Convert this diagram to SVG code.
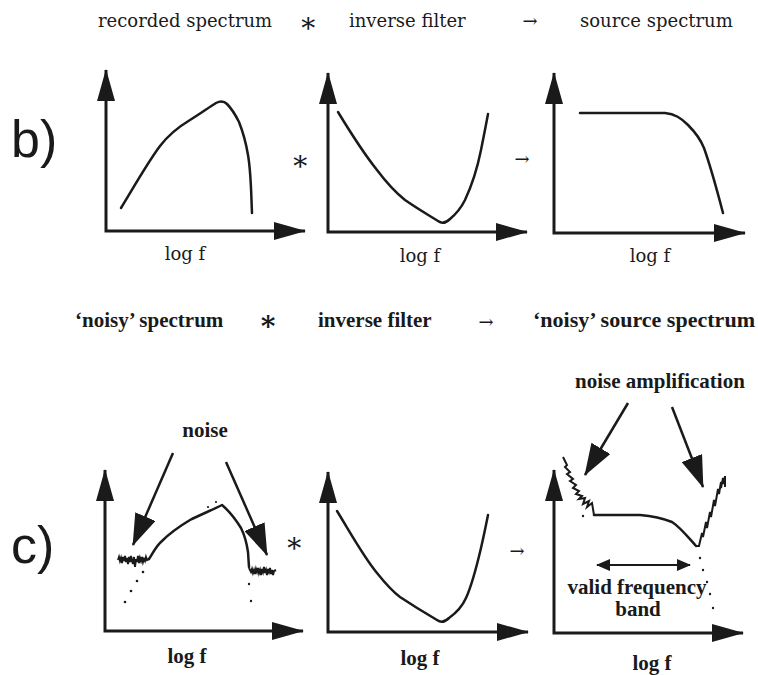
<svg xmlns="http://www.w3.org/2000/svg" width="758" height="675" viewBox="0 0 758 675">
<style>
.t{font-family:"DejaVu Serif","Liberation Serif",serif;font-size:18px;fill:#1a1a1a}
.tb{font-family:"Liberation Serif",serif;font-size:21px;font-weight:bold;fill:#1a1a1a}
.big{font-family:"Liberation Sans",Arial,sans-serif;font-size:52px;fill:#1a1a1a}
.ast{font-family:"DejaVu Serif",serif;font-size:28px;fill:#1a1a1a}
.ax{fill:none;stroke:#1a1a1a;stroke-width:3;marker-start:url(#ah);marker-end:url(#ah)}
.cv{fill:none;stroke:#1a1a1a;stroke-width:2.5;stroke-linejoin:round;stroke-linecap:round}
.nz{fill:none;stroke:#1a1a1a;stroke-width:2;stroke-linejoin:miter}
.dot{fill:#1a1a1a}
.pt{fill:none;stroke:#1a1a1a;stroke-width:2.5;marker-end:url(#bh)}
</style>
<defs>
<marker id="ah" markerUnits="userSpaceOnUse" markerWidth="32" markerHeight="18" refX="31" refY="9" orient="auto-start-reverse">
<path d="M0,0 L32,9 L0,18 z" fill="#1a1a1a"/>
</marker>
<marker id="bh" markerUnits="userSpaceOnUse" markerWidth="32" markerHeight="22" refX="31" refY="11" orient="auto">
<path d="M0,0 L32,11 L0,22 z" fill="#1a1a1a"/>
</marker>
<marker id="sh" markerUnits="userSpaceOnUse" markerWidth="14" markerHeight="12" refX="13" refY="6" orient="auto-start-reverse">
<path d="M0,0 L14,6 L0,12 z" fill="#1a1a1a"/>
</marker>
</defs>
<rect width="758" height="675" fill="#ffffff"/>

<g id="row-b-header">
<text class="t" x="98" y="27">recorded spectrum</text>
<text class="ast" x="308" y="32" text-anchor="middle">∗</text>
<text class="t" x="349" y="27">inverse filter</text>
<text class="t" x="530" y="27" text-anchor="middle">→</text>
<text class="t" x="580" y="27">source spectrum</text>
</g>

<g id="label-b"><text class="big" x="11" y="157">b)</text></g>
<g id="label-c"><text class="big" x="11" y="563">c)</text></g>

<g id="graph-b1">
<path class="ax" d="M106,70 L106,231 L305,231"/>
<path class="cv" d="M121,208 C135,185 148,162 160,146 C170,133 180,126 190,120 C200,114 208,108 216,103 C220,101 224,101 227,104 C232,109 236,116 239,122 C243,132 246,143 248,155 C251,172 251,190 252,213"/>
<text class="t" x="185" y="260" text-anchor="middle">log f</text>
</g>

<g id="graph-b2">
<path class="ax" d="M328,73 L328,232 L527,232"/>
<path class="cv" d="M338,112 C352,135 365,155 377,170 C386,182 395,192 405,200 C418,209 430,216 438,221 C442,224 446,223 450,219 C456,214 461,208 465,200 C472,185 478,165 481,150 C484,135 486,125 488,114"/>
<text class="ast" x="300" y="170" text-anchor="middle">∗</text>
<text class="t" x="420" y="262" text-anchor="middle">log f</text>
</g>

<g id="graph-b3">
<path class="ax" d="M554,73 L554,233 L745,233"/>
<path class="cv" d="M580,113 L665,113 C675,114 681,118 688,125 C695,132 700,138 704,148 C710,165 717,190 723,213"/>
<text class="t" x="522" y="165" text-anchor="middle">→</text>
<text class="t" x="650" y="262" text-anchor="middle">log f</text>
</g>

<g id="row-c-header">
<text class="tb" x="75" y="327">‘noisy’ spectrum</text>
<text class="ast" x="268" y="330" text-anchor="middle" font-weight="bold">∗</text>
<text class="tb" x="318" y="327">inverse filter</text>
<text class="t" x="486" y="328" text-anchor="middle">→</text>
<text class="tb" x="533" y="327" textLength="222" lengthAdjust="spacingAndGlyphs">‘noisy’ source spectrum</text>
</g>

<g id="graph-c1">
<path class="ax" d="M105,470 L105,631 L303,631"/>
<path class="nz" d="M118,560 L119,557 L120,561 L121,558 L122,563 L123,557 L124,561 L125,556 L126,562 L127,558 L128,564 L129,557 L130,562 L131,556 L132,561 L133,564 L134,557 L135,567 L136,559 L137,562 L138,556 L139,563 L140,558 L141,561 L142,557 L143,562 L144,559 L145,561 L146,557 L147,560 L149,559"/>
<path class="cv" d="M149,559 C153,553 156,546 162,541 C170,533 180,526 190,520 C200,515 212,510 222,505 C228,510 236,520 241,528 C245,536 247,545 248,552 L249,567"/>
<path class="nz" d="M249,568 L251,572 L252,569 L253,573 L254,570 L255,574 L256,569 L257,572 L258,568 L259,573 L260,570 L261,575 L262,569 L263,572 L264,567 L265,573 L266,570 L267,575 L268,569 L269,572 L270,568 L271,574 L272,570 L273,575 L274,571 L276,570"/>
<circle class="dot" cx="125" cy="602" r="1.3"/>
<circle class="dot" cx="131" cy="591" r="1.3"/>
<circle class="dot" cx="137" cy="581" r="1.3"/>
<circle class="dot" cx="143" cy="572" r="1.3"/>
<circle class="dot" cx="208" cy="507" r="1.1"/>
<circle class="dot" cx="216" cy="502" r="1.1"/>
<circle class="dot" cx="249" cy="584" r="1.2"/>
<circle class="dot" cx="251" cy="601" r="1.2"/>
<text class="tb" x="205" y="437" text-anchor="middle">noise</text>
<path class="pt" d="M173,453 L133,545"/>
<path class="pt" d="M226,462 L267,555"/>
<text class="ast" x="294" y="552" text-anchor="middle" font-size="32">∗</text>
<text class="tb" x="187" y="663" text-anchor="middle">log f</text>
</g>

<g id="graph-c2">
<path class="ax" d="M328,472 L328,632 L528,632"/>
<path class="cv" d="M337,511 C350,532 363,556 377,573 C385,583 392,591 400,597 C412,605 425,613 437,620 C441,623 445,622 449,618 C456,613 462,607 466,598 C472,585 477,565 481,548 C484,535 486,525 488,515"/>
<text class="t" x="517" y="557" text-anchor="middle">→</text>
<text class="tb" x="420" y="665" text-anchor="middle">log f</text>
</g>

<g id="graph-c3">
<path class="ax" d="M554,470 L554,633 L743,633"/>
<path class="nz" d="M563,457 L567,465 L565,467 L570,472 L567,474 L573,479 L570,481 L576,485 L573,488 L579,491 L576,494 L582,496 L579,499 L585,498 L583,504 L589,501 L587,507 L592,503 L594,515"/>
<path class="cv" d="M594,515 L640,515 C652,516 662,518 672,522 C680,527 688,537 696,546"/>
<path class="nz" d="M696,546 L699,546 L702,533 L703,537 L706,522 L707,528 L710,512 L711,517 L714,500 L715,506 L718,489 L719,494 L721,482 L721,488 L723,478 L724,484 L725,476 L725,487"/>
<circle class="dot" cx="583" cy="516" r="1.2"/>
<circle class="dot" cx="700" cy="558" r="1.2"/>
<circle class="dot" cx="703" cy="570" r="1.2"/>
<circle class="dot" cx="707" cy="582" r="1.2"/>
<circle class="dot" cx="710" cy="594" r="1.2"/>
<circle class="dot" cx="713" cy="608" r="1.2"/>
<text class="tb" x="660" y="388" text-anchor="middle">noise amplification</text>
<path class="pt" d="M628,403 L585,475"/>
<path class="pt" d="M672,407 L703,487"/>
<path d="M597,565 L690,565" fill="none" stroke="#1a1a1a" stroke-width="2" marker-start="url(#sh)" marker-end="url(#sh)"/>
<text class="tb" x="637" y="594" text-anchor="middle" font-size="20">valid frequency</text>
<text class="tb" x="638" y="616" text-anchor="middle" font-size="20">band</text>
<text class="tb" x="652" y="670" text-anchor="middle">log f</text>
</g>
</svg>
